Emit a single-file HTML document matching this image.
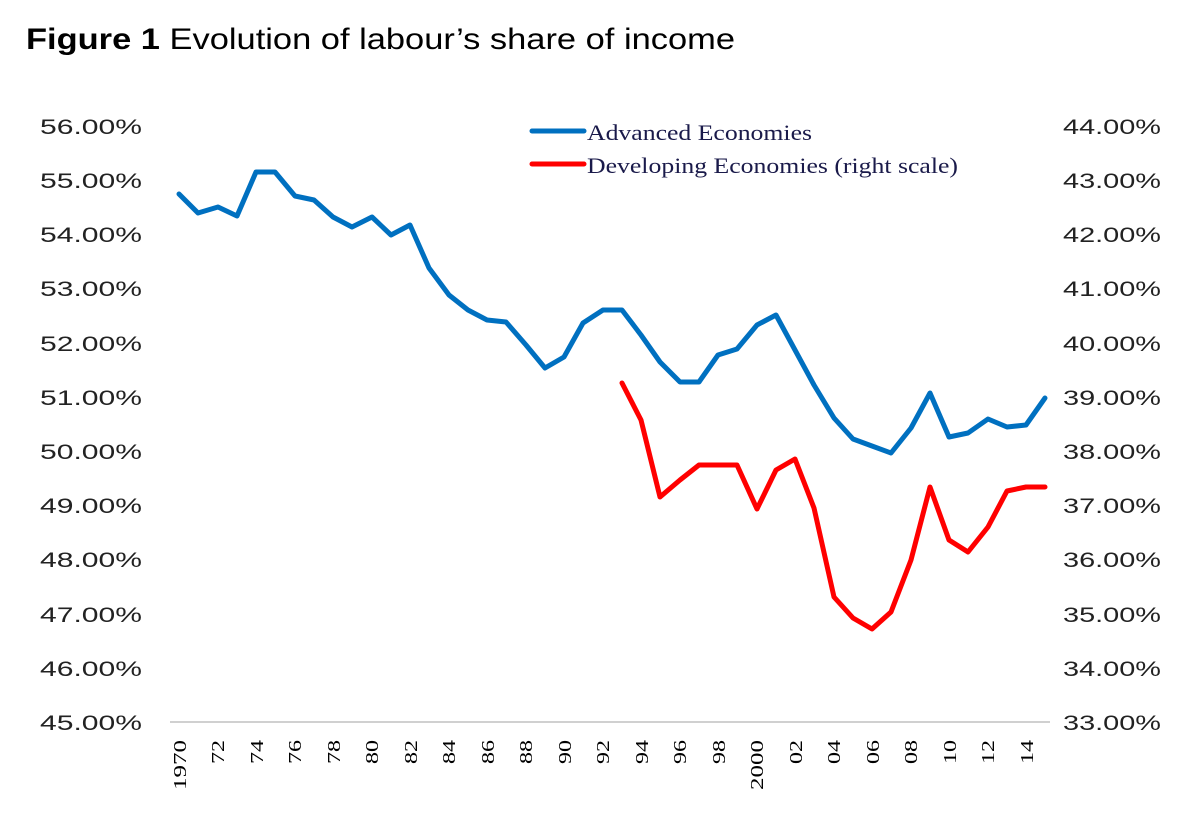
<!DOCTYPE html>
<html><head><meta charset="utf-8"><style>
body{margin:0;background:#fff;width:1200px;height:835px;overflow:hidden}
svg{display:block}
</style></head><body>
<svg width="1200" height="835" xmlns="http://www.w3.org/2000/svg">
<text x="26" y="49" font-family="Liberation Sans, sans-serif" font-size="30" fill="#000" textLength="709" lengthAdjust="spacingAndGlyphs"><tspan font-weight="bold">Figure 1</tspan> Evolution of labour’s share of income</text>
<g font-family="Liberation Sans, sans-serif" font-size="21" fill="#222" lengthAdjust="spacingAndGlyphs">
<g>
<text x="40" y="134" textLength="102" lengthAdjust="spacingAndGlyphs">56.00%</text><text x="40" y="188" textLength="102" lengthAdjust="spacingAndGlyphs">55.00%</text><text x="40" y="242" textLength="102" lengthAdjust="spacingAndGlyphs">54.00%</text><text x="40" y="296" textLength="102" lengthAdjust="spacingAndGlyphs">53.00%</text><text x="40" y="351" textLength="102" lengthAdjust="spacingAndGlyphs">52.00%</text><text x="40" y="405" textLength="102" lengthAdjust="spacingAndGlyphs">51.00%</text><text x="40" y="459" textLength="102" lengthAdjust="spacingAndGlyphs">50.00%</text><text x="40" y="513" textLength="102" lengthAdjust="spacingAndGlyphs">49.00%</text><text x="40" y="567" textLength="102" lengthAdjust="spacingAndGlyphs">48.00%</text><text x="40" y="622" textLength="102" lengthAdjust="spacingAndGlyphs">47.00%</text><text x="40" y="676" textLength="102" lengthAdjust="spacingAndGlyphs">46.00%</text><text x="40" y="730" textLength="102" lengthAdjust="spacingAndGlyphs">45.00%</text>
</g>
<g>
<text x="1063" y="134" textLength="98" lengthAdjust="spacingAndGlyphs">44.00%</text><text x="1063" y="188" textLength="98" lengthAdjust="spacingAndGlyphs">43.00%</text><text x="1063" y="242" textLength="98" lengthAdjust="spacingAndGlyphs">42.00%</text><text x="1063" y="296" textLength="98" lengthAdjust="spacingAndGlyphs">41.00%</text><text x="1063" y="351" textLength="98" lengthAdjust="spacingAndGlyphs">40.00%</text><text x="1063" y="405" textLength="98" lengthAdjust="spacingAndGlyphs">39.00%</text><text x="1063" y="459" textLength="98" lengthAdjust="spacingAndGlyphs">38.00%</text><text x="1063" y="513" textLength="98" lengthAdjust="spacingAndGlyphs">37.00%</text><text x="1063" y="567" textLength="98" lengthAdjust="spacingAndGlyphs">36.00%</text><text x="1063" y="622" textLength="98" lengthAdjust="spacingAndGlyphs">35.00%</text><text x="1063" y="676" textLength="98" lengthAdjust="spacingAndGlyphs">34.00%</text><text x="1063" y="730" textLength="98" lengthAdjust="spacingAndGlyphs">33.00%</text>
</g></g>
<line x1="170" y1="722" x2="1050" y2="722" stroke="#d0d0d0" stroke-width="2"/>
<g font-family="Liberation Serif, serif" font-size="18" fill="#000" text-anchor="end">
<text transform="translate(186,740) rotate(-90)" textLength="50" lengthAdjust="spacingAndGlyphs">1970</text>
<text transform="translate(224,740) rotate(-90)" textLength="24" lengthAdjust="spacingAndGlyphs">72</text>
<text transform="translate(263,740) rotate(-90)" textLength="24" lengthAdjust="spacingAndGlyphs">74</text>
<text transform="translate(301,740) rotate(-90)" textLength="24" lengthAdjust="spacingAndGlyphs">76</text>
<text transform="translate(340,740) rotate(-90)" textLength="24" lengthAdjust="spacingAndGlyphs">78</text>
<text transform="translate(378,740) rotate(-90)" textLength="24" lengthAdjust="spacingAndGlyphs">80</text>
<text transform="translate(417,740) rotate(-90)" textLength="24" lengthAdjust="spacingAndGlyphs">82</text>
<text transform="translate(455,740) rotate(-90)" textLength="24" lengthAdjust="spacingAndGlyphs">84</text>
<text transform="translate(494,740) rotate(-90)" textLength="24" lengthAdjust="spacingAndGlyphs">86</text>
<text transform="translate(532,740) rotate(-90)" textLength="24" lengthAdjust="spacingAndGlyphs">88</text>
<text transform="translate(571,740) rotate(-90)" textLength="24" lengthAdjust="spacingAndGlyphs">90</text>
<text transform="translate(609,740) rotate(-90)" textLength="24" lengthAdjust="spacingAndGlyphs">92</text>
<text transform="translate(648,740) rotate(-90)" textLength="24" lengthAdjust="spacingAndGlyphs">94</text>
<text transform="translate(686,740) rotate(-90)" textLength="24" lengthAdjust="spacingAndGlyphs">96</text>
<text transform="translate(725,740) rotate(-90)" textLength="24" lengthAdjust="spacingAndGlyphs">98</text>
<text transform="translate(763,740) rotate(-90)" textLength="50" lengthAdjust="spacingAndGlyphs">2000</text>
<text transform="translate(802,740) rotate(-90)" textLength="24" lengthAdjust="spacingAndGlyphs">02</text>
<text transform="translate(840,740) rotate(-90)" textLength="24" lengthAdjust="spacingAndGlyphs">04</text>
<text transform="translate(879,740) rotate(-90)" textLength="24" lengthAdjust="spacingAndGlyphs">06</text>
<text transform="translate(917,740) rotate(-90)" textLength="24" lengthAdjust="spacingAndGlyphs">08</text>
<text transform="translate(956,740) rotate(-90)" textLength="24" lengthAdjust="spacingAndGlyphs">10</text>
<text transform="translate(994,740) rotate(-90)" textLength="24" lengthAdjust="spacingAndGlyphs">12</text>
<text transform="translate(1033,740) rotate(-90)" textLength="24" lengthAdjust="spacingAndGlyphs">14</text>
</g>
<polyline fill="none" stroke="#0070c0" stroke-width="5" stroke-linejoin="round" stroke-linecap="round" points="179,194 198,213 218,207 237,216 256,172 275,172 295,196 314,200 333,217 352,227 372,217 391,235 410,225 429,268 449,295 468,310 487,320 506,322 526,345 545,368 564,357 583,323 603,310 622,310 641,335 660,362 680,382 699,382 718,355 737,349 757,325 776,315 795,350 814,385 834,418 853,439 872,446 891,453 911,428 930,393 949,437 968,433 988,419 1007,427 1026,425 1045,398"/>
<polyline fill="none" stroke="#ff0000" stroke-width="5" stroke-linejoin="round" stroke-linecap="round" points="622,383 641,420 660,497 680,480 699,465 718,465 737,465 757,509 776,470 795,459 814,508 834,597 853,618 872,629 891,612 911,560 930,487 949,540 968,552 988,527 1007,491 1026,487 1045,487"/>
<line x1="532" y1="131" x2="584" y2="131" stroke="#0070c0" stroke-width="5" stroke-linecap="round"/>
<line x1="532" y1="164" x2="584" y2="164" stroke="#ff0000" stroke-width="5" stroke-linecap="round"/>
<g font-family="Liberation Serif, serif" font-size="22" fill="#1a1a4a">
<text x="587" y="140" textLength="225" lengthAdjust="spacingAndGlyphs">Advanced Economies</text>
<text x="587" y="173" textLength="371" lengthAdjust="spacingAndGlyphs">Developing Economies (right scale)</text>
</g>
</svg>
</body></html>
